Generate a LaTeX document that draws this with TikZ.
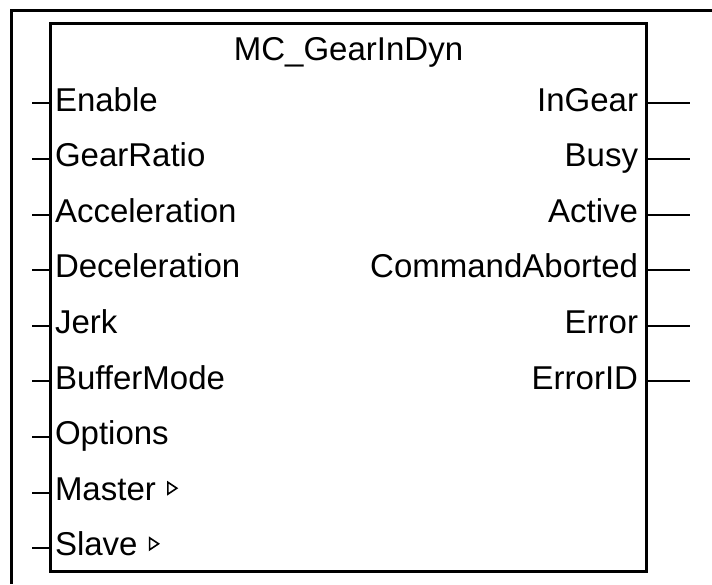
\documentclass[tikz,border=0pt]{standalone}
\usepackage{fontspec}
\setmainfont{Liberation Sans}
\begin{document}
\begin{tikzpicture}[x=1pt,y=-1pt,
  frame/.style={line width=3pt},
  pin/.style={line width=2pt},
  lbl/.style={inner sep=0pt,outer sep=0pt,font=\fontsize{33}{38}\selectfont},
  inl/.style={lbl,anchor=base west},
  outl/.style={lbl,anchor=base east},
  tri/.style={line width=1.6pt,line join=miter}]
\useasboundingbox (0,0) rectangle (712,584);
% outer frame (only top and left edges visible)
\draw[frame] (712,10.5) -- (11.5,10.5) -- (11.5,584);
% function block
\node[draw,frame,anchor=north west,inner sep=0pt,outer sep=0pt,
      minimum width=596pt,minimum height=548pt] (fb) at (50.5,23.5) {};
\node[lbl,anchor=base] (title) at (348.5,60) {MC\_GearInDyn};
% inputs
\foreach \i/\t in {0/Enable,1/GearRatio,2/Acceleration,3/Deceleration,4/Jerk,5/BufferMode,6/Options,7/Master,8/Slave}{
  \node[inl] (in\i) at (55,{111+55.6*\i}) {\t};
  \coordinate (pi\i) at (32,{round(103.4+55.6*\i)});
  \draw[pin] (pi\i) -- (pi\i -| fb.west);
}
% outputs
\foreach \i/\t in {0/InGear,1/Busy,2/Active,3/CommandAborted,4/Error,5/ErrorID}{
  \node[outl] (out\i) at (638,{111+55.6*\i}) {\t};
  \coordinate (po\i) at (690,{round(103.4+55.6*\i)});
  \draw[pin] (po\i -| fb.east) -- (po\i);
}
% reference markers
\draw[tri] ([xshift=12pt,yshift=6pt]in7.base east) -- ++(0,-12) -- ++(9,6) -- cycle;
\draw[tri] ([xshift=12pt,yshift=6pt]in8.base east) -- ++(0,-12) -- ++(9,6) -- cycle;
\end{tikzpicture}
\end{document}
